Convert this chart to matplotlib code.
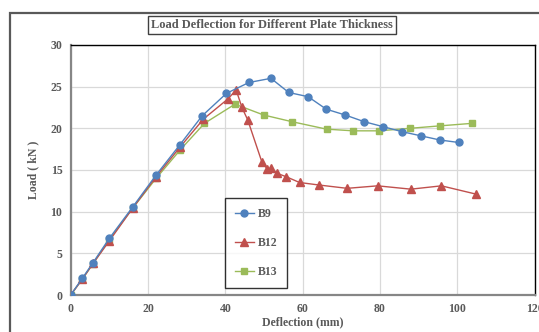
import matplotlib
matplotlib.use("Agg")
import matplotlib.pyplot as plt
from matplotlib.patches import Rectangle

plt.rcParams['font.family'] = ['Liberation Serif', 'DejaVu Serif']

b9_x = [0, 3.0, 5.8, 10.0, 16.1, 22.1, 28.2, 34.0, 40.3, 46.1, 51.8, 56.4, 61.4, 66.1, 71.0, 75.9, 80.8, 85.7, 90.6, 95.5, 100.4]
b9_y = [0, 2.0, 3.9, 6.8, 10.6, 14.4, 18.0, 21.5, 24.2, 25.5, 26.0, 24.3, 23.8, 22.3, 21.6, 20.8, 20.2, 19.6, 19.1, 18.6, 18.3]

b12_x = [0, 3.0, 5.8, 10.0, 16.0, 22.1, 28.2, 34.3, 40.6, 42.8, 44.3, 45.8, 49.5, 50.9, 51.7, 53.4, 55.7, 59.2, 64.2, 71.5, 79.4, 88.0, 95.9, 104.9]
b12_y = [0, 1.9, 3.8, 6.5, 10.4, 14.2, 17.7, 21.1, 23.5, 24.6, 22.5, 21.0, 15.9, 15.1, 15.2, 14.6, 14.2, 13.5, 13.2, 12.8, 13.1, 12.7, 13.1, 12.1]

b13_x = [0, 3.0, 5.7, 9.9, 16.0, 22.1, 28.3, 34.6, 42.5, 49.9, 57.2, 66.2, 73.1, 79.7, 87.7, 95.6, 103.9]
b13_y = [0, 1.9, 3.7, 6.6, 10.4, 14.0, 17.4, 20.6, 22.9, 21.6, 20.8, 19.9, 19.7, 19.7, 20.0, 20.3, 20.6]

x_ticks = [0, 20, 40, 60, 80, 100, 120]
y_ticks = [0, 5, 10, 15, 20, 25, 30]

fig = plt.figure(figsize=(5.39, 3.32), dpi=100)
W, H = 539, 332
ax = fig.add_axes([70.7 / W, 1 - 295 / H, (534.6 - 70.7) / W, (295 - 45) / H])

# outer chart border
fig.add_artist(Rectangle((10 / W, -0.05), 1.2, 1 - 13 / H + 0.05, transform=fig.transFigure,
                         fill=False, edgecolor='#595959', linewidth=1.6, clip_on=False))

gray = '#595959'
ax.plot(b9_x, b9_y, color='#4f81bd', marker='o', markersize=5, linewidth=1.0, label='B9', zorder=4)
ax.plot(b12_x, b12_y, color='#c0504d', marker='^', markersize=5.5, linewidth=1.0, label='B12', zorder=3)
ax.plot(b13_x, b13_y, color='#9bbb59', marker='s', markersize=5, linewidth=1.0, label='B13', zorder=2)

ax.set_xlim(0, 120)
ax.set_ylim(0, 30)
ax.set_xticks(x_ticks)
ax.set_yticks(y_ticks)
ax.grid(True, color='#d9d9d9', linewidth=0.9)
ax.set_axisbelow(True)
ax.tick_params(length=0, labelsize=8.5, labelcolor=gray, pad=6)
for lbl in ax.get_xticklabels() + ax.get_yticklabels():
    lbl.set_fontweight('bold')

ax.spines['left'].set_color('#868686')
ax.spines['left'].set_linewidth(1.6)
ax.spines['bottom'].set_color('#868686')
ax.spines['bottom'].set_linewidth(1.6)
ax.spines['top'].set_color('black')
ax.spines['right'].set_color('black')
ax.spines['top'].set_linewidth(1.0)
ax.spines['right'].set_linewidth(1.0)

ax.set_xlabel('Deflection (mm)', fontsize=8.5, fontweight='bold', color=gray, labelpad=1)
ax.set_ylabel('Load ( kN )', fontsize=8.5, fontweight='bold', color=gray, labelpad=8)

fig.text(272 / W, 1 - 25 / H, 'Load Deflection for Different Plate Thickness', ha='center', va='center',
         fontsize=9, fontweight='bold', color=gray,
         bbox=dict(boxstyle='square,pad=0.25', facecolor='white', edgecolor='#404040', linewidth=1.0))

leg = ax.legend(loc='upper left', bbox_to_anchor=((225 - 70.7) / 464, (295 - 198) / 250),
                frameon=True, fancybox=False, edgecolor='black', labelspacing=1.45,
                handlelength=1.6, handletextpad=0.3, borderpad=0.85, borderaxespad=0,
                prop={'weight': 'bold', 'size': 8.5})
leg.get_frame().set_linewidth(1.0)
for t in leg.get_texts():
    t.set_color(gray)

fig.savefig('out.png', dpi=100)
